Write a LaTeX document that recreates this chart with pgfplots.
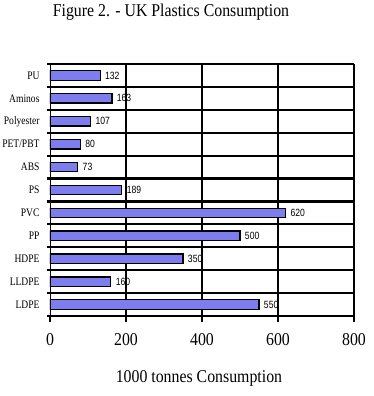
\documentclass[border=0pt]{standalone}
\usepackage{pgfplots}
\pgfplotsset{compat=1.18}
\usepackage{fontspec}
\setmainfont{Liberation Serif}
\newfontfamily\condfont[FakeStretch=0.88]{Liberation Serif}
\newfontfamily\catfont[FakeStretch=0.83]{Liberation Serif}
\newfontfamily\arialcond[FakeStretch=0.82]{Liberation Sans}
\definecolor{barblue}{RGB}{125,125,238}
\begin{document}
\begin{tikzpicture}
\useasboundingbox (-50pt,-80pt) rectangle (324pt,316pt);
\begin{axis}[
  at={(0,0)}, anchor=south west,
  scale only axis, width=304pt, height=252pt,
  /pgf/number format/assume math mode=true,
  xbar, bar width=9.5pt,
  xmin=0, xmax=800, ymin=-0.5, ymax=10.5,
  xtick={200,400,600,800},
  extra x ticks={0},
  extra x tick style={grid=none},
  xmajorgrids,
  major grid style={black, line width=2.2pt},
  ytick={0,...,10},
  yticklabels={LDPE,LLDPE,HDPE,PP,PVC,PS,ABS,PET/PBT,Polyester,Aminos,PU},
  minor ytick={-0.5,0.5,...,10.5},
  yminorgrids,
  minor grid style={black, line width=2.2pt},
  tick align=outside,
  xtick pos=bottom, ytick pos=left,
  major tick length=6pt, minor tick length=3pt,
  every major y tick/.style={draw=none},
  every minor y tick/.style={black, line width=2.2pt},
  every major x tick/.style={black, line width=1.8pt},
  axis line style={black, line width=0.5pt},
  xticklabel style={font=\condfont\fontsize{18}{18}\selectfont, yshift=-8pt},
  yticklabel style={font=\catfont\fontsize{11.5}{11.5}\selectfont, xshift=-1pt},
  every axis x label/.style={at={(axis description cs:0.49,0)}, anchor=base, yshift=-66pt, font=\condfont\fontsize{18}{18}\selectfont},
  xlabel={1000 tonnes Consumption},
  nodes near coords,
  nodes near coords style={font=\arialcond\fontsize{10.5}{10.5}\selectfont, anchor=west, black, xshift=1pt},
]
\addplot[fill=barblue, draw=black, line width=1.3pt] coordinates {
  (550,0) (160,1) (350,2) (500,3) (620,4) (189,5) (73,6) (80,7) (107,8) (163,9) (132,10)
};
\end{axis}
\node[font=\condfont\fontsize{18}{18}\selectfont, anchor=base] at (121pt,299pt) {Figure 2. - UK Plastics Consumption};
\end{tikzpicture}
\end{document}
